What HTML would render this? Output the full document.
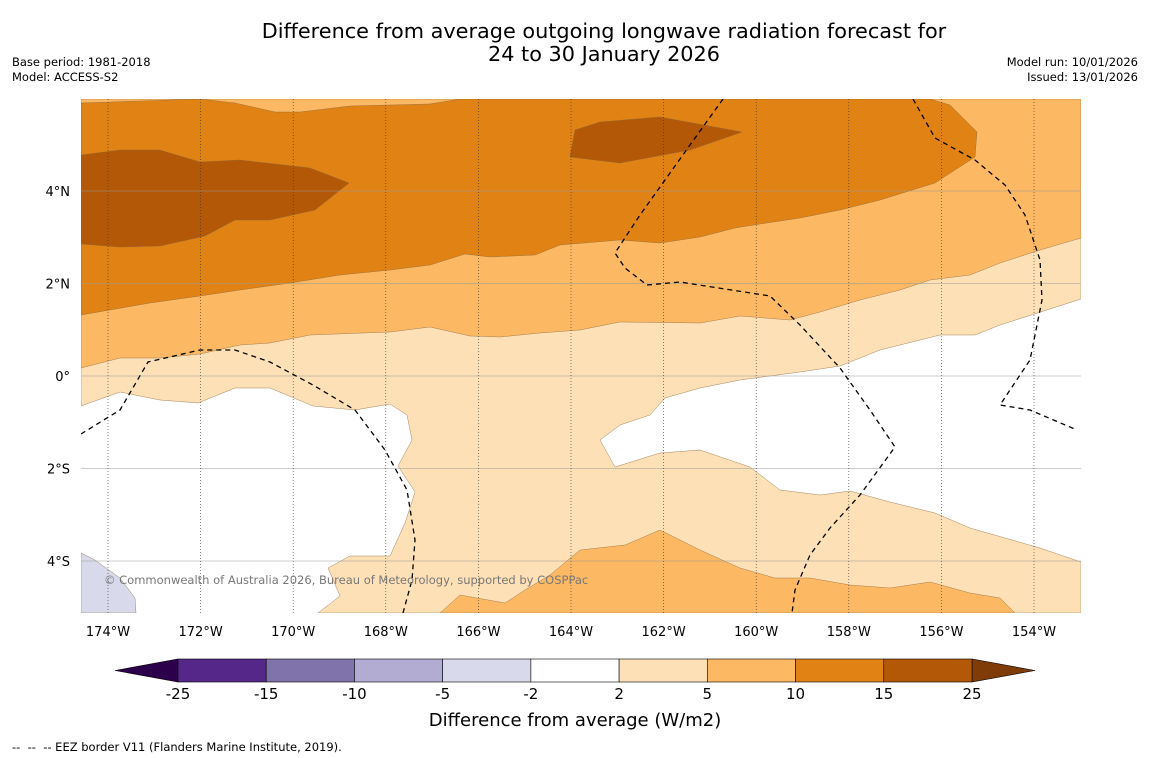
<!DOCTYPE html>
<html><head><meta charset="utf-8"><style>
body{margin:0;background:#fff;}
svg{display:block;font-family:"DejaVu Sans","Liberation Sans",sans-serif;}
</style></head><body>
<svg id="chart" width="1150" height="758" viewBox="0 0 1150 758">
<rect width="1150" height="758" fill="#fff"/>
<text x="604" y="38" font-size="20.8" text-anchor="middle">Difference from average outgoing longwave radiation forecast for</text>
<text x="604" y="61" font-size="20.8" text-anchor="middle">24 to 30 January 2026</text>
<text x="12" y="66" font-size="11.5">Base period: 1981-2018</text>
<text x="12" y="81" font-size="11.5">Model: ACCESS-S2</text>
<text x="1138" y="66" font-size="11.5" text-anchor="end">Model run: 10/01/2026</text>
<text x="1138" y="81" font-size="11.5" text-anchor="end">Issued: 13/01/2026</text>
<g id="map"></g>
<g id="cbar"></g>
<text x="575" y="726" font-size="18" text-anchor="middle">Difference from average (W/m2)</text>
<text x="12" y="751" font-size="11.5" xml:space="preserve" style="white-space:pre">--  --  -- EEZ border V11 (Flanders Marine Institute, 2019).</text>
</svg>
<script>
const lonTicks=[-174,-172,-170,-168,-166,-164,-162,-160,-158,-156,-154];
const lonLabels=["174°W","172°W","170°W","168°W","166°W","164°W","162°W","160°W","158°W","156°W","154°W"];
const latTicks=[4,2,0,-2,-4];
const latLabels=["4°N","2°N","0°","2°S","4°S"];
const cbarLevels=["-25","-15","-10","-5","-2","2","5","10","15","25"];
const cbarColors=["#542788","#8073ac","#b2abd2","#d8daeb","#ffffff","#fee0b6","#fdb863","#e08214","#b35806"];
const L={x0:81,x1:1081,y0:99,y1:613};
function X(lon){return 108+(lon+174)*46.3;}
function Y(lat){return 376-lat*46.25;}
const lightBand=[[81,99],[1081,99],[1081,299],[1000,325],[975,335],[940,335],[920,340],[880,350],[840,366],[800,372],[740,380],[700,388],[665,398],[650,415],[620,425],[600,440],[615,467],[660,453],[700,450],[750,467],[780,490],[820,495],[850,491],[890,502],[935,513],[970,528],[1040,548],[1081,562],[1081,613],[318,613],[340,596],[328,568],[350,556],[390,556],[405,523],[415,492],[398,466],[412,440],[407,415],[390,404],[355,410],[313,406],[270,388],[235,388],[198,403],[160,400],[120,392],[81,406]];
const midTop=[[81,99],[1081,99],[1081,238],[1040,250],[1000,263],[970,275],[930,280],[900,290],[860,300],[820,312],[790,320],[740,316],[700,323],[620,322],[580,330],[540,333],[500,337],[470,336],[430,327],[390,332],[310,335],[270,343],[240,345],[200,354],[160,358],[120,358],[81,368]];
const midBottom=[[440,613],[460,595],[505,603],[525,590],[550,575],[580,550],[625,545],[660,530],[700,550],[740,568],[775,578],[810,578],[850,585],[890,588],[930,582],[970,593],[1000,598],[1015,613]];
const dark=[[81,103],[200,99],[235,103],[275,112],[300,112],[350,106],[430,104],[460,99],[930,99],[950,105],[977,132],[975,157],[935,183],[880,200],[840,210],[800,218],[760,224],[735,228],[700,237],[660,243],[620,240],[560,245],[535,255],[490,257],[465,254],[430,265],[390,270],[340,275],[290,283],[240,290],[200,296],[150,303],[81,315]];
const darkest1=[[81,155],[120,150],[160,150],[200,162],[240,160],[310,168],[349,183],[315,210],[270,220],[235,220],[205,236],[160,246],[120,247],[81,244]];
const darkest2=[[570,157],[575,130],[600,122],[660,117],[742,132],[690,150],[620,163]];
const lavender=[[81,553],[95,560],[120,578],[135,598],[136,613],[81,613]];
const eez1=[[81,434],[120,410],[148,362],[200,350],[235,350],[270,362],[313,385],[355,410],[385,450],[407,490],[415,540],[412,580],[403,613]];
const eez2=[[723,99],[690,145],[640,215],[615,253],[625,268],[647,285],[680,282],[770,296],[800,325],[840,368],[870,410],[895,447],[860,495],[830,528],[810,555],[795,590],[792,613]];
const eez3=[[913,99],[935,138],[975,160],[1005,185],[1025,215],[1040,260],[1042,300],[1030,360],[1000,405],[1030,410],[1077,430]];
const NS="http://www.w3.org/2000/svg";
const map=document.getElementById('map');
function mk(tag,attrs,parent){const e=document.createElementNS(NS,tag);for(const k in attrs)e.setAttribute(k,attrs[k]);parent.appendChild(e);return e;}
const cp=mk('clipPath',{id:'clip'},map);mk('rect',{x:L.x0,y:L.y0,width:L.x1-L.x0,height:L.y1-L.y0},cp);
const g=mk('g',{'clip-path':'url(#clip)'},map);
function poly(pts,fill,name){const p=mk('polygon',{points:pts.map(q=>q.join(',')).join(' '),fill:fill,stroke:'#8a6a40','stroke-width':0.4},g);

}
poly(lightBand,cbarColors[5],'contour-2-5');
poly(midTop,cbarColors[6],'contour-5-10-north');
poly(midBottom,cbarColors[6],'contour-5-10-south');
poly(dark,cbarColors[7],'contour-10-15');
poly(darkest1,cbarColors[8],'contour-15-25-west');
poly(darkest2,cbarColors[8],'contour-15-25-central');
poly(lavender,cbarColors[3],'contour-neg5-neg2');
latTicks.forEach((v,i)=>{const l=mk('line',{x1:L.x0,x2:L.x1,y1:Y(v),y2:Y(v),stroke:'#999','stroke-width':0.6},g);


const t=mk('text',{x:70,y:Y(v)+5,'font-size':13,'text-anchor':'end'},map);t.textContent=latLabels[i];

});
lonTicks.forEach((v,i)=>{const l=mk('line',{x1:X(v),x2:X(v),y1:L.y0,y2:L.y1,stroke:'#333','stroke-width':0.6,'stroke-dasharray':'1,2'},g);


const t=mk('text',{x:X(v),y:636,'font-size':13,'text-anchor':'middle'},map);t.textContent=lonLabels[i];

});
[eez1,eez2,eez3].forEach(pts=>{const p=mk('polyline',{points:pts.map(q=>q.join(',')).join(' '),fill:'none',stroke:'#000','stroke-width':1.3,'stroke-dasharray':'5,4'},g);

});
const w=mk('text',{x:104,y:584,'font-size':11.5,fill:'#777'},map);w.textContent='© Commonwealth of Australia 2026, Bureau of Meteorology, supported by COSPPac';


const cb=document.getElementById('cbar');const cx0=178,cx1=972,cy=659,ch=23;const bw=(cx1-cx0)/cbarColors.length;
const tl=mk('polygon',{points:`${cx0},${cy} ${cx0},${cy+ch} 115,${cy+ch/2}`,fill:'#2d004b',stroke:'#000','stroke-width':0.6},cb);


const tr=mk('polygon',{points:`${cx1},${cy} ${cx1},${cy+ch} 1035,${cy+ch/2}`,fill:'#7f3b08',stroke:'#000','stroke-width':0.6},cb);


cbarColors.forEach((c,i)=>{const r=mk('rect',{x:cx0+i*bw,y:cy,width:bw,height:ch,fill:c,stroke:'#000','stroke-width':0.6},cb);

});
cbarLevels.forEach((s,i)=>{const t=mk('text',{x:cx0+i*bw,y:699,'font-size':15,'text-anchor':'middle'},cb);t.textContent=s;

});
</script>
</body></html>
